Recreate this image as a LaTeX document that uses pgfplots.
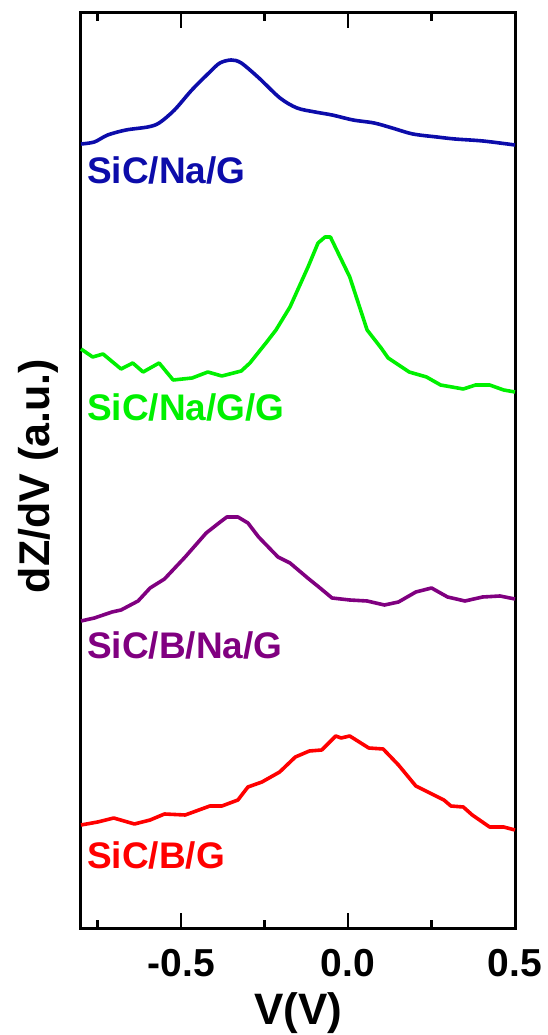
\documentclass[border=0pt]{standalone}
\usepackage{pgfplots}
\pgfplotsset{compat=1.18}
\usepackage{fontspec}
\setmainfont{Liberation Sans}
\definecolor{cblue}{RGB}{12,12,170}
\definecolor{cgreen}{RGB}{0,240,0}
\definecolor{cpurple}{RGB}{128,0,128}
\definecolor{cred}{RGB}{255,0,0}
\begin{document}
\begin{tikzpicture}
\begin{axis}[
  at={(0pt,0pt)}, anchor=south west,
  scale only axis, width=434pt, height=915pt,
  xmin=-0.8, xmax=0.5, ymin=0, ymax=915,
  xtick={-0.5,0,0.5}, xticklabels={-0.5,0.0,0.5},
  minor xtick={-0.75,-0.25,0.25},
  ytick=\empty,
  xtick align=inside,
  xtick pos=both,
  xtick style={draw=black, line width=2.6pt},
  major tick length=15pt, minor tick length=8pt,
  axis line style={line width=3pt},
  /pgf/number format/assume math mode=true,
  xticklabel style={font=\fontsize{39}{39}\selectfont\bfseries, inner sep=0pt, anchor=north, yshift=-21pt},
  xlabel={V(V)},
  xlabel style={font=\fontsize{44}{44}\selectfont\bfseries, at={(axis description cs:0.5,0)}, anchor=north, inner sep=0pt, yshift=-64pt},
  ylabel={dZ/dV (a.u.)},
  ylabel style={font=\fontsize{43}{43}\selectfont\bfseries, at={(axis description cs:-0.099,0.494)}, anchor=center, inner sep=0pt},
  every axis plot/.append style={line width=3.6pt, line join=round},
  clip=false,
]
% tick marks (bottom and top)
\draw[black, line width=2.6pt] (axis cs:-0.5,0) -- (axis cs:-0.5,15);
\draw[black, line width=2.6pt] (axis cs:0,0) -- (axis cs:0,15);
\draw[black, line width=2.6pt] (axis cs:-0.5,915) -- (axis cs:-0.5,900);
\draw[black, line width=2.6pt] (axis cs:0,915) -- (axis cs:0,900);
\draw[black, line width=2.6pt] (axis cs:-0.75,0) -- (axis cs:-0.75,8);
\draw[black, line width=2.6pt] (axis cs:-0.25,0) -- (axis cs:-0.25,8);
\draw[black, line width=2.6pt] (axis cs:0.25,0) -- (axis cs:0.25,8);
\draw[black, line width=2.6pt] (axis cs:-0.75,915) -- (axis cs:-0.75,907);
\draw[black, line width=2.6pt] (axis cs:-0.25,915) -- (axis cs:-0.25,907);
\draw[black, line width=2.6pt] (axis cs:0.25,915) -- (axis cs:0.25,907);
% SiC/Na/G (blue)
\addplot[cblue, smooth] coordinates {
(-0.80,784) (-0.76,786) (-0.72,793) (-0.665,798) (-0.60,801) (-0.566,805) (-0.52,818)
(-0.468,838) (-0.414,856) (-0.384,865) (-0.35,868) (-0.32,865) (-0.267,850) (-0.204,830)
(-0.153,820) (-0.099,816) (-0.048,813) (0.015,808) (0.078,805) (0.132,800) (0.194,794)
(0.266,791) (0.32,789) (0.404,787) (0.50,783)};
% SiC/Na/G/G (green)
\addplot[cgreen] coordinates {
(-0.80,579) (-0.765,571) (-0.734,574) (-0.68,559) (-0.645,565) (-0.614,556) (-0.566,565)
(-0.524,548) (-0.467,550) (-0.42,556) (-0.378,552) (-0.32,557) (-0.294,565) (-0.246,585)
(-0.216,598) (-0.174,621) (-0.12,661) (-0.09,685) (-0.069,691) (-0.053,691) (0.005,651)
(0.057,598) (0.099,580) (0.12,570) (0.183,556) (0.235,551) (0.277,543) (0.345,539)
(0.382,543) (0.424,543) (0.466,538) (0.50,536)};
% SiC/B/Na/G (purple)
\addplot[cpurple] coordinates {
(-0.80,307) (-0.76,310) (-0.707,316) (-0.68,318) (-0.629,327) (-0.593,340) (-0.55,349)
(-0.488,371) (-0.425,395) (-0.383,406) (-0.363,411) (-0.33,411) (-0.30,405) (-0.268,391)
(-0.21,371) (-0.174,365) (-0.121,350) (-0.084,340) (-0.048,330) (0.005,328) (0.057,327)
(0.109,323) (0.151,326) (0.203,336) (0.25,340) (0.298,331) (0.35,327) (0.403,331)
(0.455,332) (0.50,329)};
% SiC/B/G (red)
\addplot[cred] coordinates {
(-0.80,103) (-0.75,106) (-0.702,110) (-0.64,104) (-0.593,108) (-0.55,114) (-0.488,113)
(-0.414,122) (-0.378,122) (-0.33,128) (-0.30,141) (-0.258,146) (-0.205,156) (-0.158,171)
(-0.116,177) (-0.079,178) (-0.037,192) (-0.021,190) (0.005,192) (0.062,180) (0.105,179)
(0.151,163) (0.203,142) (0.245,135) (0.287,128) (0.308,122) (0.345,121) (0.372,113)
(0.424,101) (0.466,101) (0.50,98)};
\node[anchor=west, inner sep=0pt, text=cblue, font=\fontsize{37}{37}\selectfont\bfseries] at (axis cs:-0.782,758) {SiC/Na/G};
\node[anchor=west, inner sep=0pt, text=cgreen, font=\fontsize{37}{37}\selectfont\bfseries] at (axis cs:-0.782,521) {SiC/Na/G/G};
\node[anchor=west, inner sep=0pt, text=cpurple, font=\fontsize{37}{37}\selectfont\bfseries] at (axis cs:-0.782,283) {SiC/B/Na/G};
\node[anchor=west, inner sep=0pt, text=cred, font=\fontsize{37}{37}\selectfont\bfseries] at (axis cs:-0.782,73) {SiC/B/G};
\end{axis}
\pgfresetboundingbox
\useasboundingbox (-81pt,-107pt) rectangle (466pt,928pt);
\end{tikzpicture}
\end{document}
